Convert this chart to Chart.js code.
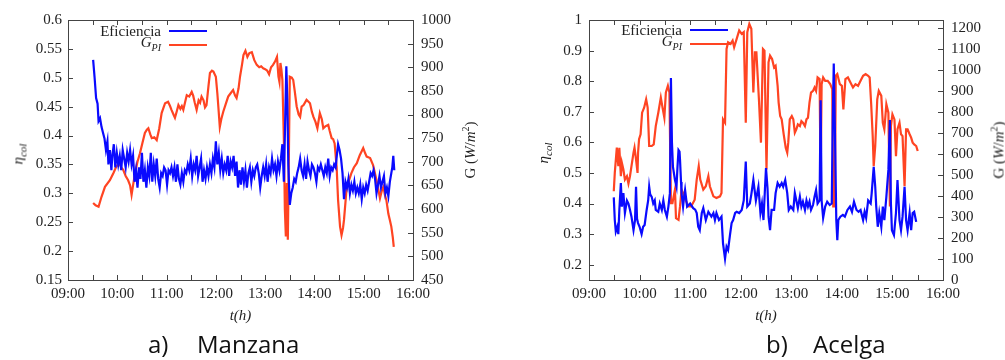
<!DOCTYPE html>
<html>
<head>
<meta charset="utf-8">
<script src="https://cdn.jsdelivr.net/npm/chart.js@4.4.0/dist/chart.umd.min.js"></script>
<style>
  body { margin: 0; width: 1005px; height: 360px; background: #fff; position: relative; overflow: hidden;
         font-family: "Liberation Serif", serif; color: #222; }
  .box { position: absolute; top: 0; height: 330px; }
  #boxA { left: 0; width: 500px; }
  #boxB { left: 500px; width: 505px; }
  .ytitle { position: absolute; font-size: 15px; white-space: nowrap; transform: translate(-50%, -50%) rotate(-90deg); }
  .leg { position: absolute; width: 147px; height: 16px; font-size: 15px; line-height: 16px; white-space: nowrap;
         display: flex; align-items: center; justify-content: flex-end; }
  .leg .swatch { display: inline-block; width: 38px; height: 2px; margin-left: 8px; }
  .cap { position: absolute; top: 332px; font-family: "Open Sans", sans-serif; font-size: 24px; line-height: 24px; color: #111; }
</style>
</head>
<body>
<div class="box" id="boxA"><canvas id="chartA"></canvas></div>
<div class="box" id="boxB"><canvas id="chartB"></canvas></div>

<div class="ytitle" style="left:20px; top:154px;"><i>η</i><sub><i style="font-size:11px">col</i></sub></div>
<div class="ytitle" style="left:469px; top:150px;">G (<i>W</i>/<i>m</i><sup style="font-size:10px">2</sup>)</div>
<div class="ytitle" style="left:545px; top:153px;"><i>η</i><sub><i style="font-size:11px">col</i></sub></div>
<div class="ytitle" style="left:998px; top:150px;">G (<i>W</i>/<i>m</i><sup style="font-size:10px">2</sup>)</div>

<div class="leg" style="left:60px; top:23px;">Eficiencia<span class="swatch" style="background:#0a0aff"></span></div>
<div class="leg" style="left:60px; top:37px;"><span><i>G</i><sub><i style="font-size:10px">PI</i></sub></span><span class="swatch" style="background:#ff4422"></span></div>
<div class="leg" style="left:581px; top:22px;">Eficiencia<span class="swatch" style="background:#0a0aff"></span></div>
<div class="leg" style="left:581px; top:36px;"><span><i>G</i><sub><i style="font-size:10px">PI</i></sub></span><span class="swatch" style="background:#ff4422"></span></div>

<span class="cap" style="left:148px;">a)</span><span class="cap" style="left:197px;">Manzana</span>
<span class="cap" style="left:766px;">b)</span><span class="cap" style="left:813px;">Acelga</span>

<script>
// ---- a) Manzana ----
const tEffA = [9.51,9.54,9.57,9.60,9.62,9.65,9.68,9.71,9.74,9.77,9.80,9.82,9.85,9.88,9.90,9.93,9.96,9.99,10.02,10.05,10.08,10.11,10.14,10.17,10.20,10.23,10.26,10.29,10.32,10.35,10.38,10.41,10.44,10.47,10.50,10.53,10.56,10.59,10.62,10.65,10.68,10.71,10.74,10.77,10.80,10.83,10.86,10.89,10.92,10.95,10.98,11.01,11.04,11.07,11.10,11.13,11.16,11.19,11.22,11.25,11.28,11.31,11.34,11.37,11.40,11.43,11.46,11.49,11.52,11.55,11.58,11.61,11.64,11.67,11.70,11.73,11.76,11.79,11.82,11.85,11.88,11.91,11.94,11.97,12.00,12.03,12.06,12.09,12.12,12.15,12.18,12.21,12.24,12.27,12.30,12.33,12.36,12.39,12.42,12.45,12.48,12.51,12.54,12.57,12.60,12.63,12.66,12.69,12.72,12.75,12.78,12.81,12.84,12.87,12.90,12.93,12.96,12.99,13.02,13.05,13.08,13.11,13.14,13.17,13.20,13.23,13.26,13.29,13.32,13.35,13.38,13.41,13.43,13.45,13.47,13.50,13.53,13.56,13.59,13.62,13.65,13.68,13.71,13.74,13.77,13.80,13.83,13.86,13.89,13.92,13.95,13.98,14.01,14.04,14.07,14.10,14.13,14.16,14.19,14.22,14.25,14.28,14.31,14.34,14.37,14.40,14.43,14.46,14.48,14.51,14.54,14.57,14.60,14.63,14.66,14.69,14.72,14.75,14.78,14.81,14.84,14.87,14.90,14.93,14.96,14.99,15.02,15.05,15.08,15.11,15.14,15.17,15.20,15.23,15.26,15.29,15.32,15.35,15.38,15.41,15.44,15.47,15.50,15.53,15.56,15.58,15.60,15.62];
const effA = [0.531,0.50,0.465,0.455,0.425,0.43,0.415,0.405,0.395,0.375,0.39,0.35,0.375,0.34,0.365,0.385,0.345,0.37,0.35,0.365,0.34,0.375,0.36,0.345,0.37,0.355,0.375,0.35,0.365,0.32,0.34,0.31,0.345,0.325,0.37,0.32,0.34,0.31,0.345,0.33,0.37,0.32,0.35,0.33,0.36,0.325,0.31,0.335,0.33,0.345,0.34,0.315,0.34,0.335,0.345,0.33,0.345,0.32,0.35,0.325,0.315,0.335,0.32,0.34,0.335,0.35,0.34,0.36,0.33,0.35,0.34,0.365,0.33,0.345,0.36,0.32,0.34,0.325,0.345,0.33,0.35,0.335,0.36,0.345,0.39,0.35,0.37,0.34,0.36,0.335,0.35,0.34,0.365,0.33,0.355,0.345,0.365,0.33,0.355,0.31,0.34,0.315,0.345,0.32,0.34,0.31,0.335,0.345,0.32,0.34,0.33,0.345,0.35,0.335,0.31,0.33,0.345,0.33,0.35,0.32,0.345,0.335,0.36,0.34,0.35,0.33,0.355,0.34,0.36,0.385,0.32,0.44,0.52,0.46,0.35,0.28,0.30,0.31,0.325,0.32,0.335,0.345,0.36,0.34,0.33,0.35,0.325,0.355,0.34,0.33,0.35,0.345,0.335,0.32,0.345,0.34,0.35,0.34,0.33,0.345,0.335,0.36,0.33,0.345,0.34,0.35,0.345,0.37,0.385,0.375,0.36,0.335,0.29,0.32,0.31,0.325,0.30,0.315,0.305,0.32,0.30,0.31,0.30,0.315,0.29,0.31,0.30,0.315,0.305,0.32,0.335,0.33,0.34,0.325,0.30,0.315,0.33,0.31,0.32,0.33,0.30,0.31,0.295,0.32,0.335,0.345,0.365,0.34];
const tGA = [9.51,9.56,9.62,9.68,9.75,9.85,9.92,9.98,10.04,10.08,10.12,10.17,10.22,10.26,10.29,10.32,10.36,10.41,10.46,10.51,10.56,10.60,10.63,10.67,10.70,10.75,10.80,10.85,10.90,10.94,10.97,11.03,11.07,11.10,11.14,11.17,11.21,11.24,11.28,11.31,11.34,11.38,11.41,11.46,11.51,11.54,11.57,11.61,11.65,11.68,11.71,11.75,11.78,11.81,11.85,11.88,11.92,11.95,12.00,12.03,12.05,12.08,12.11,12.15,12.20,12.25,12.30,12.35,12.39,12.42,12.46,12.49,12.53,12.56,12.60,12.64,12.68,12.73,12.78,12.83,12.88,12.92,12.96,13.00,13.04,13.08,13.12,13.16,13.20,13.24,13.27,13.29,13.31,13.33,13.35,13.38,13.40,13.42,13.44,13.46,13.48,13.50,13.54,13.57,13.60,13.64,13.68,13.71,13.74,13.78,13.84,13.87,13.91,13.95,13.98,14.02,14.06,14.11,14.15,14.18,14.22,14.28,14.31,14.35,14.38,14.41,14.45,14.48,14.52,14.55,14.58,14.60,14.65,14.70,14.75,14.80,14.86,14.92,14.99,15.03,15.06,15.13,15.19,15.23,15.26,15.30,15.33,15.37,15.40,15.43,15.46,15.50,15.53,15.56,15.59,15.61];
const gA = [613,608,605,626,647,661,676,690,697,688,683,670,661,650,630,650,676,700,718,740,761,768,771,758,750,752,746,770,803,815,824,827,818,810,800,793,808,820,812,818,810,828,841,838,848,840,826,810,830,825,838,830,815,820,860,888,893,891,880,845,817,774,790,806,822,838,845,852,840,835,855,880,905,926,935,922,930,932,915,905,900,902,898,896,893,885,900,905,912,922,880,869,909,895,873,746,600,542,655,535,700,880,878,873,850,817,800,795,817,820,831,828,824,805,795,785,771,803,790,771,775,778,765,750,748,739,690,619,563,545,560,577,640,660,676,688,697,714,729,718,711,708,693,675,661,640,623,640,647,630,619,590,577,563,540,520];
const effTicksA = [0.15,0.2,0.25,0.3,0.35,0.4,0.45,0.5,0.55,0.6];
const gTicksA = [450,500,550,600,650,700,750,800,850,900,950,1000];

// ---- b) Acelga ----
const tEffB = [9.49,9.51,9.53,9.56,9.58,9.60,9.63,9.65,9.68,9.71,9.75,9.78,9.81,9.84,9.88,9.91,9.93,9.95,9.97,10.00,10.04,10.07,10.10,10.14,10.17,10.19,10.21,10.24,10.27,10.30,10.32,10.37,10.40,10.44,10.47,10.50,10.54,10.57,10.60,10.62,10.64,10.66,10.70,10.73,10.75,10.77,10.79,10.80,10.82,10.83,10.86,10.88,10.90,10.94,11.00,11.06,11.10,11.13,11.16,11.19,11.23,11.26,11.31,11.36,11.42,11.46,11.49,11.52,11.57,11.62,11.65,11.69,11.72,11.75,11.79,11.82,11.85,11.89,11.92,11.97,12.02,12.06,12.10,12.13,12.18,12.21,12.25,12.30,12.35,12.39,12.42,12.45,12.48,12.50,12.53,12.55,12.58,12.61,12.66,12.69,12.73,12.77,12.81,12.84,12.88,12.92,12.95,12.99,13.04,13.07,13.10,13.13,13.17,13.20,13.23,13.27,13.30,13.33,13.36,13.39,13.43,13.46,13.49,13.52,13.56,13.58,13.60,13.63,13.67,13.71,13.76,13.80,13.82,13.84,13.87,13.89,13.91,13.93,13.97,14.02,14.06,14.11,14.16,14.20,14.24,14.29,14.33,14.37,14.42,14.45,14.48,14.52,14.57,14.59,14.63,14.66,14.68,14.71,14.74,14.78,14.81,14.84,14.88,14.92,14.95,14.97,14.99,15.03,15.07,15.10,15.14,15.17,15.20,15.24,15.27,15.30,15.34,15.37,15.40,15.43,15.47];
const effB = [0.42,0.346,0.308,0.324,0.30,0.379,0.467,0.39,0.434,0.369,0.41,0.40,0.38,0.357,0.313,0.346,0.455,0.35,0.336,0.324,0.30,0.324,0.33,0.379,0.41,0.455,0.43,0.422,0.40,0.41,0.379,0.373,0.40,0.379,0.41,0.379,0.357,0.39,0.434,0.81,0.60,0.52,0.477,0.455,0.52,0.575,0.57,0.542,0.47,0.434,0.39,0.42,0.444,0.39,0.40,0.385,0.38,0.369,0.324,0.313,0.369,0.385,0.346,0.373,0.357,0.369,0.346,0.369,0.346,0.357,0.27,0.22,0.259,0.248,0.30,0.336,0.346,0.369,0.373,0.369,0.379,0.41,0.537,0.39,0.40,0.43,0.477,0.41,0.455,0.369,0.40,0.346,0.45,0.516,0.45,0.357,0.313,0.379,0.379,0.434,0.467,0.455,0.467,0.455,0.477,0.434,0.379,0.39,0.379,0.434,0.41,0.385,0.422,0.39,0.406,0.379,0.41,0.39,0.406,0.379,0.395,0.422,0.444,0.40,0.41,0.738,0.41,0.353,0.39,0.406,0.395,0.40,0.673,0.858,0.565,0.346,0.28,0.346,0.357,0.363,0.357,0.379,0.39,0.373,0.406,0.379,0.373,0.379,0.346,0.373,0.353,0.41,0.40,0.434,0.52,0.455,0.39,0.324,0.369,0.324,0.39,0.346,0.422,0.51,0.673,0.40,0.313,0.297,0.369,0.477,0.346,0.313,0.357,0.455,0.346,0.313,0.369,0.313,0.369,0.373,0.34];
const tGB = [9.49,9.51,9.55,9.58,9.60,9.63,9.65,9.68,9.71,9.75,9.78,9.81,9.84,9.88,9.90,9.93,9.96,9.97,9.99,10.02,10.05,10.09,10.13,10.16,10.19,10.24,10.28,10.32,10.37,10.42,10.46,10.49,10.52,10.56,10.59,10.62,10.65,10.70,10.72,10.77,10.80,10.83,10.86,10.91,10.96,11.02,11.09,11.13,11.17,11.20,11.26,11.31,11.36,11.39,11.46,11.52,11.59,11.62,11.65,11.69,11.72,11.75,11.80,11.84,11.87,11.92,11.97,12.02,12.06,12.10,12.13,12.17,12.21,12.25,12.28,12.31,12.36,12.40,12.44,12.47,12.51,12.55,12.58,12.62,12.66,12.69,12.73,12.75,12.78,12.81,12.85,12.89,12.92,12.94,12.97,13.01,13.04,13.07,13.10,13.13,13.17,13.20,13.23,13.27,13.30,13.33,13.36,13.39,13.43,13.46,13.49,13.52,13.56,13.58,13.60,13.63,13.67,13.72,13.77,13.81,13.83,13.86,13.88,13.91,13.96,14.00,14.03,14.07,14.12,14.17,14.22,14.27,14.32,14.37,14.42,14.47,14.52,14.55,14.58,14.61,14.63,14.66,14.70,14.73,14.78,14.81,14.84,14.88,14.92,14.95,14.97,15.00,15.04,15.07,15.10,15.14,15.17,15.20,15.24,15.27,15.30,15.34,15.37,15.40,15.43,15.47,15.50];
const gB = [423,511,631,543,631,495,559,527,479,495,460,495,543,607,631,575,511,607,671,695,798,822,862,822,639,639,647,734,798,870,814,774,894,926,894,367,367,431,295,287,351,431,415,383,351,351,383,479,543,479,431,447,495,447,399,391,399,415,766,750,1102,1134,1126,1142,1110,1150,1190,1174,1182,750,1182,1221,1198,894,1086,1086,862,655,1102,1094,527,1038,1070,1054,1014,1022,926,846,782,766,695,631,607,655,766,782,766,703,719,742,734,758,750,734,766,774,846,894,902,918,902,966,958,463,934,966,950,950,934,910,351,351,974,982,934,926,814,958,966,942,918,934,926,950,974,982,974,966,838,686,543,639,862,902,878,750,719,838,798,351,734,790,766,591,719,750,695,686,447,719,719,695,679,655,647,639,615];
const effTicksB = [0.2,0.3,0.4,0.5,0.6,0.7,0.8,0.9,1];
const gTicksB = [0,100,200,300,400,500,600,700,800,900,1000,1100,1200];

const timeTicks = [9,9.5,10,10.5,11,11.5,12,12.5,13,13.5,14,14.5,15,15.5,16];
const hourLabels = ['09:00','10:00','11:00','12:00','13:00','14:00','15:00','16:00'];

const serif = '"Liberation Serif", "DejaVu Serif", serif';
Chart.defaults.font.family = serif;
Chart.defaults.font.size = 15;
Chart.defaults.color = '#222';

const toPoints = (ts, vs) => ts.map((t, i) => ({ x: t, y: vs[i] }));
const setTicks = values => scale => { scale.ticks = values.map(v => ({ value: v })); };
const tickFont = { family: serif, size: 15 };

// gnuplot style: closed box with inward ticks
const frameTicks = {
    id: 'frameTicks',
    beforeDatasetsDraw(chart) {
        const { ctx, chartArea: a, scales } = chart;
        ctx.save();
        ctx.strokeStyle = '#444';
        ctx.lineWidth = 1;
        ctx.strokeRect(Math.round(a.left) + 0.5, Math.round(a.top) + 0.5,
                       Math.round(a.right - a.left), Math.round(a.bottom - a.top));
        ctx.beginPath();
        scales.x.ticks.forEach(t => {
            const px = Math.round(scales.x.getPixelForValue(t.value)) + 0.5;
            ctx.moveTo(px, a.bottom); ctx.lineTo(px, a.bottom - 5);
            ctx.moveTo(px, a.top); ctx.lineTo(px, a.top + 5);
        });
        scales.y.ticks.forEach(t => {
            const py = Math.round(scales.y.getPixelForValue(t.value)) + 0.5;
            ctx.moveTo(a.left, py); ctx.lineTo(a.left + 5, py);
        });
        scales.y2.ticks.forEach(t => {
            const py = Math.round(scales.y2.getPixelForValue(t.value)) + 0.5;
            ctx.moveTo(a.right, py); ctx.lineTo(a.right - 5, py);
        });
        ctx.stroke();
        ctx.restore();
    }
};

function makeChart(id, cfg) {
    return new Chart(document.getElementById(id), {
        type: 'line',
        data: {
            datasets: [
                { label: 'Eficiencia', data: toPoints(cfg.tEff, cfg.eff), yAxisID: 'y',
                  borderColor: '#0a0aff', borderWidth: 2.2, pointRadius: 0, tension: 0 },
                { label: 'G_PI', data: toPoints(cfg.tG, cfg.g), yAxisID: 'y2',
                  borderColor: '#ff4422', borderWidth: 2.2, pointRadius: 0, tension: 0 }
            ]
        },
        options: {
            responsive: true,
            maintainAspectRatio: false,
            animation: false,
            layout: { padding: { top: 20, left: 0, right: 0, bottom: 0 } },
            plugins: { legend: { display: false }, tooltip: { enabled: false } },
            scales: {
                x: {
                    type: 'linear', min: 9, max: 16,
                    grid: { display: false, drawTicks: false }, border: { display: false },
                    afterBuildTicks: setTicks(timeTicks),
                    ticks: { padding: 5, maxRotation: 0, autoSkip: false, font: tickFont,
                             callback: v => Number.isInteger(v) ? hourLabels[v - 9] : '' },
                    title: { display: true, text: 't(h)', font: { family: serif, style: 'italic', size: 15 },
                             padding: { top: 0, bottom: 5 } },
                    afterFit: s => { s.height = 50; }
                },
                y: {
                    position: 'left', min: cfg.yMin, max: cfg.yMax,
                    grid: { display: false, drawTicks: false }, border: { display: false },
                    afterBuildTicks: setTicks(cfg.yTicks),
                    ticks: { padding: cfg.yPad, autoSkip: false, font: tickFont, callback: v => String(v) },
                    afterFit: s => { s.width = cfg.leftW; }
                },
                y2: {
                    position: 'right', min: cfg.y2Min, max: cfg.y2Max,
                    grid: { display: false, drawTicks: false }, border: { display: false },
                    afterBuildTicks: setTicks(cfg.y2Ticks),
                    ticks: { padding: 8, autoSkip: false, font: tickFont, callback: v => String(v) },
                    afterFit: s => { s.width = cfg.rightW; }
                }
            }
        },
        plugins: [frameTicks]
    });
}

makeChart('chartA', {
    tEff: tEffA, eff: effA, tG: tGA, g: gA,
    yMin: 0.15, yMax: 0.6, yTicks: effTicksA, yPad: 6,
    y2Min: 450, y2Max: 1000, y2Ticks: gTicksA,
    leftW: 68, rightW: 87
});

makeChart('chartB', {
    tEff: tEffB, eff: effB, tG: tGB, g: gB,
    yMin: 0.15, yMax: 1, yTicks: effTicksB, yPad: 7,
    y2Min: 0, y2Max: 1240, y2Ticks: gTicksB,
    leftW: 89, rightW: 62
});
</script>
</body>
</html>
